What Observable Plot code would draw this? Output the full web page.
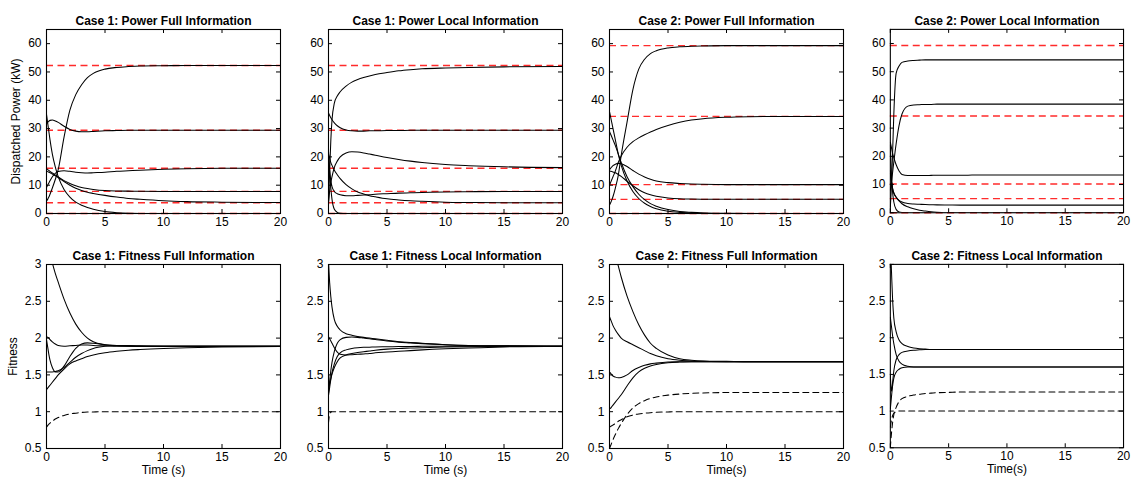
<!DOCTYPE html>
<html><head><meta charset="utf-8">
<script src="https://cdn.jsdelivr.net/npm/d3@7"></script>
<script src="https://cdn.jsdelivr.net/npm/@observablehq/plot@0.6"></script>
<style>
html,body{margin:0;padding:0;background:#fff;}
body{width:1133px;height:481px;overflow:hidden;position:relative;font-family:"Liberation Sans",Arial,Helvetica,sans-serif;}
.panel{position:absolute;}
.panel svg{overflow:visible;}
</style></head>
<body>
<script>
// ---- time grid (s) ----
const T = [0, 0.1, 0.2, 0.3, 0.5, 0.75, 1, 1.5, 2, 2.5, 3, 3.5, 4, 5, 6, 7, 8, 10, 12, 15, 20];

// ---- ticks ----
const xTicks = [0, 5, 10, 15, 20];
const powerTicks = [0, 10, 20, 30, 40, 50, 60];
const fitTicks = [0.5, 1, 1.5, 2, 2.5, 3];

// ---- titles / labels ----
const titles = [
  "Case 1: Power Full Information", "Case 1: Power Local Information",
  "Case 2: Power Full Information", "Case 2: Power Local Information",
  "Case 1: Fitness Full Information", "Case 1: Fitness Local Information",
  "Case 2: Fitness Full Information", "Case 2: Fitness Local Information"
];
const yLabels = ["Dispatched Power (kW)", "Fitness"];
const xLabels = ["Time (s)", "Time (s)", "Time(s)", "Time(s)"];

// ---- reference (red dashed) power levels ----
const refCase1 = [52.3, 29.4, 16, 7.8, 3.8, 0];
const refCase2 = [59.3, 34.3, 10.2, 5, 0];

// ---- Case 1: Power, Full information ----
const c1pf_a = [4.5, 5.0, 5.8, 6.8, 9.0, 12.0, 15.5, 27, 36.5, 42, 45.5, 48, 49.5, 51, 51.6, 51.9, 52.1, 52.2, 52.3, 52.3, 52.3];
const c1pf_b = [31.5, 32.2, 32.6, 32.9, 33.0, 32.7, 32.2, 30.8, 29.7, 29.1, 28.9, 28.9, 29.0, 29.2, 29.3, 29.4, 29.4, 29.4, 29.4, 29.4, 29.4];
const c1pf_c = [9.2, 10.0, 10.8, 11.6, 13.0, 14.2, 14.8, 15.1, 14.9, 14.6, 14.4, 14.3, 14.4, 14.6, 14.9, 15.1, 15.3, 15.6, 15.8, 15.95, 16.0];
const c1pf_d = [15.7, 15.5, 15.2, 14.9, 14.3, 13.6, 12.9, 11.6, 10.6, 9.8, 9.2, 8.8, 8.5, 8.1, 7.95, 7.9, 7.85, 7.8, 7.8, 7.8, 7.8];
const c1pf_e = [15.0, 14.8, 14.6, 14.4, 13.9, 13.3, 12.7, 11.3, 10.0, 8.9, 8.1, 7.5, 7.1, 6.4, 5.8, 5.3, 5.0, 4.5, 4.2, 4.0, 3.85];
const c1pf_f = [35, 32, 29, 26, 21, 16.5, 13, 8.5, 5.8, 4.0, 2.9, 2.1, 1.5, 0.7, 0.3, 0.1, 0.03, 0, 0, 0, 0];

// ---- Case 1: Power, Local information ----
const c1pl_a = [3, 15, 26, 33, 39, 41.5, 43, 45, 46.4, 47.3, 48, 48.6, 49.1, 49.8, 50.4, 50.8, 51.1, 51.4, 51.6, 51.8, 51.9];
const c1pl_b = [35.5, 34.6, 33.8, 33.1, 32.0, 31.0, 30.3, 29.5, 29.2, 29.1, 29.1, 29.2, 29.2, 29.3, 29.3, 29.4, 29.4, 29.4, 29.4, 29.4, 29.4];
const c1pl_c = [4, 8, 11, 13, 16.3, 18.5, 20, 21.4, 21.8, 21.7, 21.4, 21.0, 20.6, 19.8, 19.1, 18.5, 18.0, 17.3, 16.9, 16.5, 16.2];
const c1pl_d = [20, 15, 11.5, 9.5, 7.8, 7.0, 6.6, 6.3, 6.3, 6.4, 6.5, 6.6, 6.8, 7.0, 7.2, 7.3, 7.4, 7.6, 7.7, 7.8, 7.8];
const c1pl_e = [21, 19.5, 18, 17, 15.3, 13.7, 12.3, 10.2, 8.7, 7.6, 6.9, 6.3, 5.9, 5.2, 4.8, 4.5, 4.3, 4.0, 3.9, 3.8, 3.8];
const c1pl_f = [22, 15, 9, 5, 1.5, 0.4, 0.1, 0, 0, 0, 0, 0, 0, 0, 0, 0, 0, 0, 0, 0, 0];

// ---- Case 2: Power, Full information ----
const c2pf_a = [3, 3.8, 4.8, 6, 9, 13.5, 20.5, 32.3, 43.8, 51, 54.5, 56.5, 57.5, 58.5, 58.9, 59.1, 59.2, 59.3, 59.3, 59.3, 59.3];
const c2pf_b = [10, 11, 12, 13, 15, 18, 20.3, 23.4, 25.4, 26.7, 27.8, 28.8, 29.7, 31.1, 32.2, 33.0, 33.5, 34.0, 34.2, 34.3, 34.3];
const c2pf_c = [15.5, 16, 16.5, 16.9, 17.4, 17.7, 17.6, 16.6, 15.2, 13.9, 12.9, 12.1, 11.5, 10.9, 10.6, 10.4, 10.3, 10.2, 10.2, 10.2, 10.2];
const c2pf_d = [15, 14.9, 14.8, 14.7, 14.4, 13.8, 13.1, 11.4, 9.8, 8.4, 7.3, 6.6, 6.1, 5.5, 5.2, 5.1, 5.05, 5.0, 5.0, 5.0, 5.0];
const c2pf_e = [36, 34, 32, 30, 26, 21, 17, 11.5, 7.8, 5.3, 3.6, 2.5, 1.7, 0.8, 0.4, 0.2, 0.1, 0, 0, 0, 0];
const c2pf_f = [29, 28, 27, 26, 24, 21, 18, 13, 9.5, 6.8, 4.9, 3.5, 2.6, 1.4, 0.7, 0.4, 0.2, 0.05, 0, 0, 0];

// ---- Case 2: Power, Local information ----
const c2pl_a = [2, 10, 22, 35, 49.5, 52, 53.3, 53.8, 54, 54.1, 54.2, 54.2, 54.2, 54.2, 54.2, 54.2, 54.2, 54.2, 54.2, 54.2, 54.2];
const c2pl_b = [8, 11, 14.5, 18, 24.5, 31, 35, 37.8, 38.2, 38.3, 38.4, 38.4, 38.5, 38.5, 38.5, 38.5, 38.5, 38.5, 38.5, 38.5, 38.5];
const c2pl_c = [25, 23, 21, 19.5, 17, 14.8, 13.6, 13.2, 13.2, 13.2, 13.2, 13.25, 13.3, 13.3, 13.3, 13.35, 13.4, 13.4, 13.4, 13.4, 13.4];
const c2pl_d = [15, 11, 8.5, 7, 5.5, 4.4, 3.8, 3.3, 3.1, 3.0, 2.9, 2.85, 2.8, 2.75, 2.7, 2.7, 2.7, 2.7, 2.7, 2.7, 2.7];
const c2pl_e = [24, 13, 7, 3.8, 1.2, 0.3, 0.1, 0, 0, 0, 0, 0, 0, 0, 0, 0, 0, 0, 0, 0, 0];
const c2pl_f = [14, 11, 8.5, 7, 5.5, 4.2, 3.2, 2.1, 1.4, 0.9, 0.6, 0.35, 0.2, 0.05, 0, 0, 0, 0, 0, 0, 0];

// ---- Case 1: Fitness, Full information ----
const c1ff_a = [3.35, 3.28, 3.21, 3.14, 3.02, 2.88, 2.76, 2.53, 2.34, 2.19, 2.08, 2.0, 1.95, 1.91, 1.895, 1.89, 1.89, 1.89, 1.89, 1.89, 1.89];
const c1ff_b = [2.02, 2.01, 2.0, 1.98, 1.95, 1.92, 1.9, 1.89, 1.895, 1.9, 1.905, 1.905, 1.9, 1.895, 1.89, 1.89, 1.89, 1.89, 1.89, 1.89, 1.89];
const c1ff_c = [1.98, 1.88, 1.78, 1.7, 1.6, 1.54, 1.54, 1.62, 1.75, 1.86, 1.92, 1.935, 1.93, 1.91, 1.9, 1.895, 1.89, 1.89, 1.89, 1.89, 1.89];
const c1ff_d = [1.54, 1.54, 1.54, 1.54, 1.54, 1.545, 1.555, 1.6, 1.67, 1.74, 1.79, 1.83, 1.86, 1.89, 1.9, 1.9, 1.895, 1.89, 1.89, 1.89, 1.89];
const c1ff_e = [1.3, 1.32, 1.34, 1.36, 1.4, 1.45, 1.5, 1.58, 1.65, 1.69, 1.72, 1.75, 1.77, 1.8, 1.82, 1.835, 1.845, 1.86, 1.87, 1.88, 1.885];
const c1ff_dash = [0.79, 0.81, 0.83, 0.845, 0.87, 0.9, 0.92, 0.95, 0.97, 0.98, 0.99, 0.995, 0.997, 1, 1, 1, 1, 1, 1, 1, 1];

// ---- Case 1: Fitness, Local information ----
const c1fl_a = [3.05, 2.75, 2.56, 2.42, 2.25, 2.16, 2.11, 2.06, 2.04, 2.02, 2.01, 2.0, 1.99, 1.97, 1.95, 1.94, 1.93, 1.91, 1.9, 1.895, 1.89];
const c1fl_b = [2.02, 1.99, 1.96, 1.93, 1.87, 1.81, 1.78, 1.77, 1.775, 1.78, 1.785, 1.79, 1.8, 1.81, 1.82, 1.83, 1.84, 1.855, 1.865, 1.88, 1.89];
const c1fl_c = [1.25, 1.42, 1.56, 1.67, 1.82, 1.93, 1.98, 2.01, 2.015, 2.01, 2.0, 1.99, 1.98, 1.96, 1.945, 1.935, 1.925, 1.91, 1.9, 1.895, 1.89];
const c1fl_d = [1.22, 1.33, 1.44, 1.53, 1.65, 1.75, 1.8, 1.84, 1.86, 1.87, 1.875, 1.877, 1.88, 1.882, 1.885, 1.887, 1.888, 1.89, 1.89, 1.89, 1.89];
const c1fl_e = [1.3, 1.38, 1.45, 1.51, 1.6, 1.68, 1.73, 1.77, 1.79, 1.805, 1.815, 1.825, 1.835, 1.85, 1.86, 1.865, 1.87, 1.878, 1.883, 1.887, 1.89];
const c1fl_dash = [0.85, 0.97, 0.995, 1, 1, 1, 1, 1, 1, 1, 1, 1, 1, 1, 1, 1, 1, 1, 1, 1, 1];

// ---- Case 2: Fitness, Full information ----
const c2ff_a = [3.4, 3.35, 3.3, 3.24, 3.13, 2.98, 2.83, 2.57, 2.36, 2.18, 2.04, 1.93, 1.86, 1.77, 1.72, 1.7, 1.69, 1.685, 1.68, 1.68, 1.68];
const c2ff_b = [2.29, 2.25, 2.21, 2.17, 2.11, 2.05, 2.0, 1.95, 1.91, 1.87, 1.83, 1.79, 1.76, 1.72, 1.7, 1.69, 1.685, 1.68, 1.68, 1.68, 1.68];
const c2ff_c = [1.54, 1.52, 1.5, 1.485, 1.47, 1.46, 1.465, 1.5, 1.56, 1.6, 1.63, 1.65, 1.66, 1.675, 1.68, 1.68, 1.68, 1.68, 1.68, 1.68, 1.68];
const c2ff_d = [1.04, 1.05, 1.07, 1.09, 1.13, 1.18, 1.23, 1.35, 1.46, 1.54, 1.59, 1.62, 1.64, 1.665, 1.675, 1.68, 1.68, 1.68, 1.68, 1.68, 1.68];
const c2ff_dash1 = [0.79, 0.8, 0.81, 0.82, 0.84, 0.87, 0.89, 0.93, 0.955, 0.97, 0.98, 0.987, 0.992, 0.997, 1, 1, 1, 1, 1, 1, 1];
const c2ff_dash2 = [0.5, 0.54, 0.58, 0.62, 0.69, 0.77, 0.84, 0.96, 1.05, 1.11, 1.15, 1.18, 1.2, 1.225, 1.24, 1.25, 1.255, 1.26, 1.26, 1.26, 1.26];

// ---- Case 2: Fitness, Local information ----
const c2fl_a = [3.3, 2.9, 2.5, 2.27, 2.08, 1.97, 1.92, 1.88, 1.86, 1.85, 1.845, 1.84, 1.84, 1.84, 1.84, 1.84, 1.84, 1.84, 1.84, 1.84, 1.84];
const c2fl_b = [2.28, 2.15, 2.02, 1.92, 1.77, 1.68, 1.64, 1.61, 1.6, 1.6, 1.6, 1.6, 1.6, 1.6, 1.6, 1.6, 1.6, 1.6, 1.6, 1.6, 1.6];
const c2fl_c = [1.5, 1.27, 1.4, 1.55, 1.7, 1.77, 1.8, 1.82, 1.83, 1.835, 1.84, 1.84, 1.84, 1.84, 1.84, 1.84, 1.84, 1.84, 1.84, 1.84, 1.84];
const c2fl_d = [1.03, 1.2, 1.35, 1.45, 1.53, 1.57, 1.59, 1.6, 1.6, 1.6, 1.6, 1.6, 1.6, 1.6, 1.6, 1.6, 1.6, 1.6, 1.6, 1.6, 1.6];
const c2fl_dash1 = [0.78, 0.88, 0.94, 0.97, 0.99, 1.0, 1.0, 1.0, 1.0, 1.0, 1.0, 1.0, 1.0, 1.0, 1.0, 1.0, 1.0, 1.0, 1.0, 1.0, 1.0];
const c2fl_dash2 = [0.5, 0.7, 0.85, 0.95, 1.05, 1.13, 1.17, 1.2, 1.22, 1.23, 1.24, 1.245, 1.25, 1.255, 1.26, 1.26, 1.26, 1.26, 1.26, 1.26, 1.26];

// ---- panel configuration (built from the arrays above) ----
const panels = [
  {title: titles[0], col: 0, row: 0, solid: [c1pf_a, c1pf_b, c1pf_c, c1pf_d, c1pf_e, c1pf_f], dashed: [], refs: refCase1, ylabel: yLabels[0]},
  {title: titles[1], col: 1, row: 0, solid: [c1pl_a, c1pl_b, c1pl_c, c1pl_d, c1pl_e, c1pl_f], dashed: [], refs: refCase1},
  {title: titles[2], col: 2, row: 0, solid: [c2pf_a, c2pf_b, c2pf_c, c2pf_d, c2pf_e, c2pf_f], dashed: [], refs: refCase2},
  {title: titles[3], col: 3, row: 0, solid: [c2pl_a, c2pl_b, c2pl_c, c2pl_d, c2pl_e, c2pl_f], dashed: [], refs: refCase2},
  {title: titles[4], col: 0, row: 1, solid: [c1ff_a, c1ff_b, c1ff_c, c1ff_d, c1ff_e], dashed: [c1ff_dash], refs: [], ylabel: yLabels[1], xlabel: xLabels[0]},
  {title: titles[5], col: 1, row: 1, solid: [c1fl_a, c1fl_b, c1fl_c, c1fl_d, c1fl_e], dashed: [c1fl_dash], refs: [], xlabel: xLabels[1]},
  {title: titles[6], col: 2, row: 1, solid: [c2ff_a, c2ff_b, c2ff_c, c2ff_d], dashed: [c2ff_dash1, c2ff_dash2], refs: [], xlabel: xLabels[2]},
  {title: titles[7], col: 3, row: 1, solid: [c2fl_a, c2fl_b, c2fl_c, c2fl_d], dashed: [c2fl_dash1, c2fl_dash2], refs: [], xlabel: xLabels[3]}
];

const frameLefts = [46, 328, 609, 890];
const frameTops = [29, 264];
const FW = 234, FH = 184;
const ML = 50, MR = 10, MT = 32, MB = 34;
const FONT = '"Liberation Sans", Arial, Helvetica, sans-serif';

function toRows(series) {
  return series.flatMap((vals, s) => vals.map((v, j) => ({t: T[j], v, s})));
}

for (const p of panels) {
  const isPower = p.row === 0;
  const yTicks = isPower ? powerTicks : fitTicks;
  const marks = [];
  if (p.refs.length) {
    marks.push(Plot.ruleY(p.refs, {y: d => d, stroke: "#ff2b2b", strokeWidth: 1.4, strokeDasharray: "7,4.5"}));
  }
  marks.push(Plot.line(toRows(p.solid), {x: "t", y: "v", z: "s", stroke: "#000", strokeWidth: 1.05, curve: "monotone-x", clip: true}));
  if (p.dashed.length) {
    marks.push(Plot.line(toRows(p.dashed), {x: "t", y: "v", z: "s", stroke: "#000", strokeWidth: 1.05, strokeDasharray: "6,4", curve: "monotone-x", clip: true}));
  }
  marks.push(
    Plot.frame({stroke: "#000", strokeWidth: 1.1}),
    Plot.tickX(xTicks, {x: d => d, insetTop: FH - 4, stroke: "#000"}),
    Plot.tickX(xTicks, {x: d => d, insetBottom: FH - 4, stroke: "#000"}),
    Plot.tickY(yTicks, {y: d => d, insetRight: FW - 4, stroke: "#000"}),
    Plot.tickY(yTicks, {y: d => d, insetLeft: FW - 4, stroke: "#000"}),
    Plot.axisX(xTicks, {tickSize: 0, tickPadding: 4, label: null, fontSize: 12, tickFormat: d => String(d)}),
    Plot.axisY(yTicks, {tickSize: 0, tickPadding: 5, label: null, fontSize: 12, tickFormat: d => String(d)}),
    Plot.text([p.title], {frameAnchor: "top", dy: -13, fontWeight: "bold", fontSize: 12, fill: "#000"})
  );
  if (p.ylabel) {
    marks.push(Plot.text([p.ylabel], {frameAnchor: "left", textAnchor: "middle", dx: isPower ? -30 : -33, rotate: -90, fontSize: 12, fill: "#000"}));
  }
  if (p.xlabel) {
    marks.push(Plot.text([p.xlabel], {frameAnchor: "bottom", textAnchor: "middle", dy: 25, fontSize: 12, fill: "#000"}));
  }
  const svg = Plot.plot({
    width: ML + FW + MR,
    height: MT + FH + MB,
    marginLeft: ML, marginRight: MR, marginTop: MT, marginBottom: MB,
    x: {type: "linear", domain: [0, 20]},
    y: {type: "linear", domain: isPower ? [0, 65] : [0.5, 3]},
    style: {fontFamily: FONT, fontSize: "12px", color: "#000", background: "transparent", overflow: "visible"},
    marks
  });
  const div = document.createElement("div");
  div.className = "panel";
  div.style.left = (frameLefts[p.col] - ML) + "px";
  div.style.top = (frameTops[p.row] - MT) + "px";
  div.appendChild(svg);
  document.body.appendChild(div);
}
</script>
</body></html>
